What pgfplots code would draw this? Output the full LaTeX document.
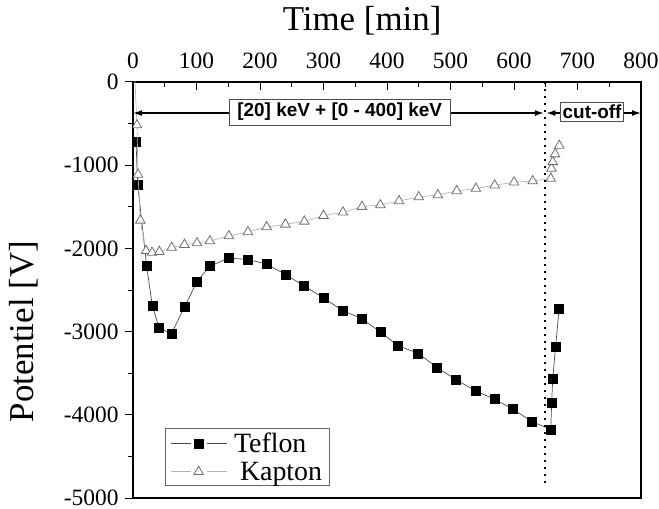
\documentclass[border=0pt]{standalone}
\usepackage{fontspec}
\setmainfont{Liberation Serif}
\newfontfamily\arialfont{Liberation Sans}
\usepackage{pgfplots}
\pgfplotsset{compat=1.18}
\usetikzlibrary{arrows.meta}

\definecolor{teflonline}{HTML}{4A4A4A}
\definecolor{kaptonline}{HTML}{B4B4B4}
\definecolor{kaptonmark}{HTML}{6E6E6E}

\begin{document}
\begin{tikzpicture}
\begin{axis}[
  width=508bp, height=416bp, scale only axis,
  xmin=0, xmax=800, ymin=-5000, ymax=0,
  xtick={0,100,...,800}, ytick={-5000,-4000,...,0},
  minor x tick num=1, minor y tick num=1,
  xtick pos=upper, ytick pos=left,
  xticklabel pos=upper,
  tick align=inside,
  major tick length=8bp, minor tick length=5bp,
  major y tick style={xshift=-8bp},
  minor y tick style={xshift=-5bp},
  axis line style={line width=1.2bp},
  every tick/.style={black, line width=1bp},
  tick label style={font=\fontsize{23.5}{24}\selectfont},
  /pgf/number format/assume math mode=true,
  /pgf/number format/set thousands separator={},
  xticklabel style={yshift=10bp},
  yticklabel style={xshift=-11bp},
  xlabel={Time [min]},
  ylabel={Potentiel [V]},
  label style={font=\fontsize{35}{35}\selectfont},
  xlabel style={at={(axis description cs:0.451,1)}, anchor=center, yshift=61bp},
  ylabel style={at={(axis description cs:-0.2146,0.40)}, anchor=center, rotate=0},
  clip marker paths=true,
  legend cell align=left,
  legend style={at={(axis description cs:0.063,0.029)}, anchor=south west,
    draw=black!60, line width=0.6bp, font=\fontsize{28}{30}\selectfont,
    inner xsep=5bp, inner ysep=2bp, row sep=4bp,
    /tikz/every odd column/.append style={column sep=5bp}},
  legend image code/.code={%
    \draw[#1] (0bp,0bp) -- (20bp,0bp);
    \draw[#1] (36bp,0bp) -- (56bp,0bp);
    \draw[#1] plot coordinates {(28bp,0bp)};},
]
\addplot[color=teflonline, line width=0.7bp, mark=square*,
  mark options={solid, fill=black, draw=black, line width=0.3bp}, mark size=4.5bp]
  coordinates {
  (4.7,-711) (7.4,-1233) (21.5,-2210) (30.4,-2690) (41,-2952) (60.4,-3028)
  (81.4,-2699) (100.8,-2398) (120.7,-2213) (151,-2117) (181,-2133)
  (210.5,-2189) (240,-2313) (269,-2450) (300,-2594) (330,-2747) (360,-2843)
  (389.5,-3004) (417,-3169) (449,-3261) (478.7,-3430) (508.6,-3578)
  (539,-3711) (569,-3811) (598.4,-3932) (628.3,-4084) (657.8,-4173)
  (659.3,-3859) (661,-3562) (665.6,-3177) (671,-2723)
};
\addlegendentry{Teflon}
\addplot[color=kaptonline, line width=0.7bp, mark=triangle*,
  mark options={solid, fill=white, draw=kaptonmark, line width=0.8bp}, mark size=5.5bp]
  coordinates {
  (3,30) (6.3,-518) (7.9,-1112) (11.5,-1663) (20.5,-2030) (29.9,-2050)
  (41.5,-2040) (61,-1990) (81,-1955) (100.8,-1936) (121,-1912) (151,-1851)
  (181,-1803) (210.5,-1743) (240,-1711) (269.8,-1675) (300,-1606)
  (330.7,-1566) (360.6,-1498) (389.5,-1478) (419,-1430) (450,-1382)
  (480,-1357) (509.8,-1310) (540,-1281) (569.6,-1241) (600,-1205)
  (629.4,-1189) (658,-1161) (659,-1040) (661,-960) (664.6,-867)
  (671.3,-763)
};
\addlegendentry{\hspace{6bp}Kapton}

\draw[black, line width=2bp, dash pattern=on 2bp off 5bp]
  (axis cs:649,0) -- (axis cs:649,-4870);
\draw[{Latex[length=9bp,width=6bp]}-{Latex[length=9bp,width=6bp]}, line width=1.4bp]
  (axis cs:0,-373) -- (axis cs:647,-373);
\draw[{Latex[length=9bp,width=6bp]}-{Latex[length=9bp,width=6bp]}, line width=1.4bp]
  (axis cs:651,-373) -- (axis cs:800,-373);
\node[fill=white, draw=black!70, line width=0.6bp, inner xsep=8bp, inner ysep=4bp,
  font=\arialfont\bfseries\fontsize{19}{19}\selectfont]
  at (axis cs:325.5,-361) {[20] keV + [0 - 400] keV};
\node[fill=white, draw=black!70, line width=0.6bp, inner xsep=2bp, inner ysep=2.5bp,
  font=\arialfont\bfseries\fontsize{19}{19}\selectfont]
  at (axis cs:723,-361) {cut-off};
\end{axis}
\pgfresetboundingbox
\path[use as bounding box] ([xshift=-133bp,yshift=-10bp]current axis.south west)
  rectangle ([xshift=18bp,yshift=82bp]current axis.north east);
\end{tikzpicture}
\end{document}
